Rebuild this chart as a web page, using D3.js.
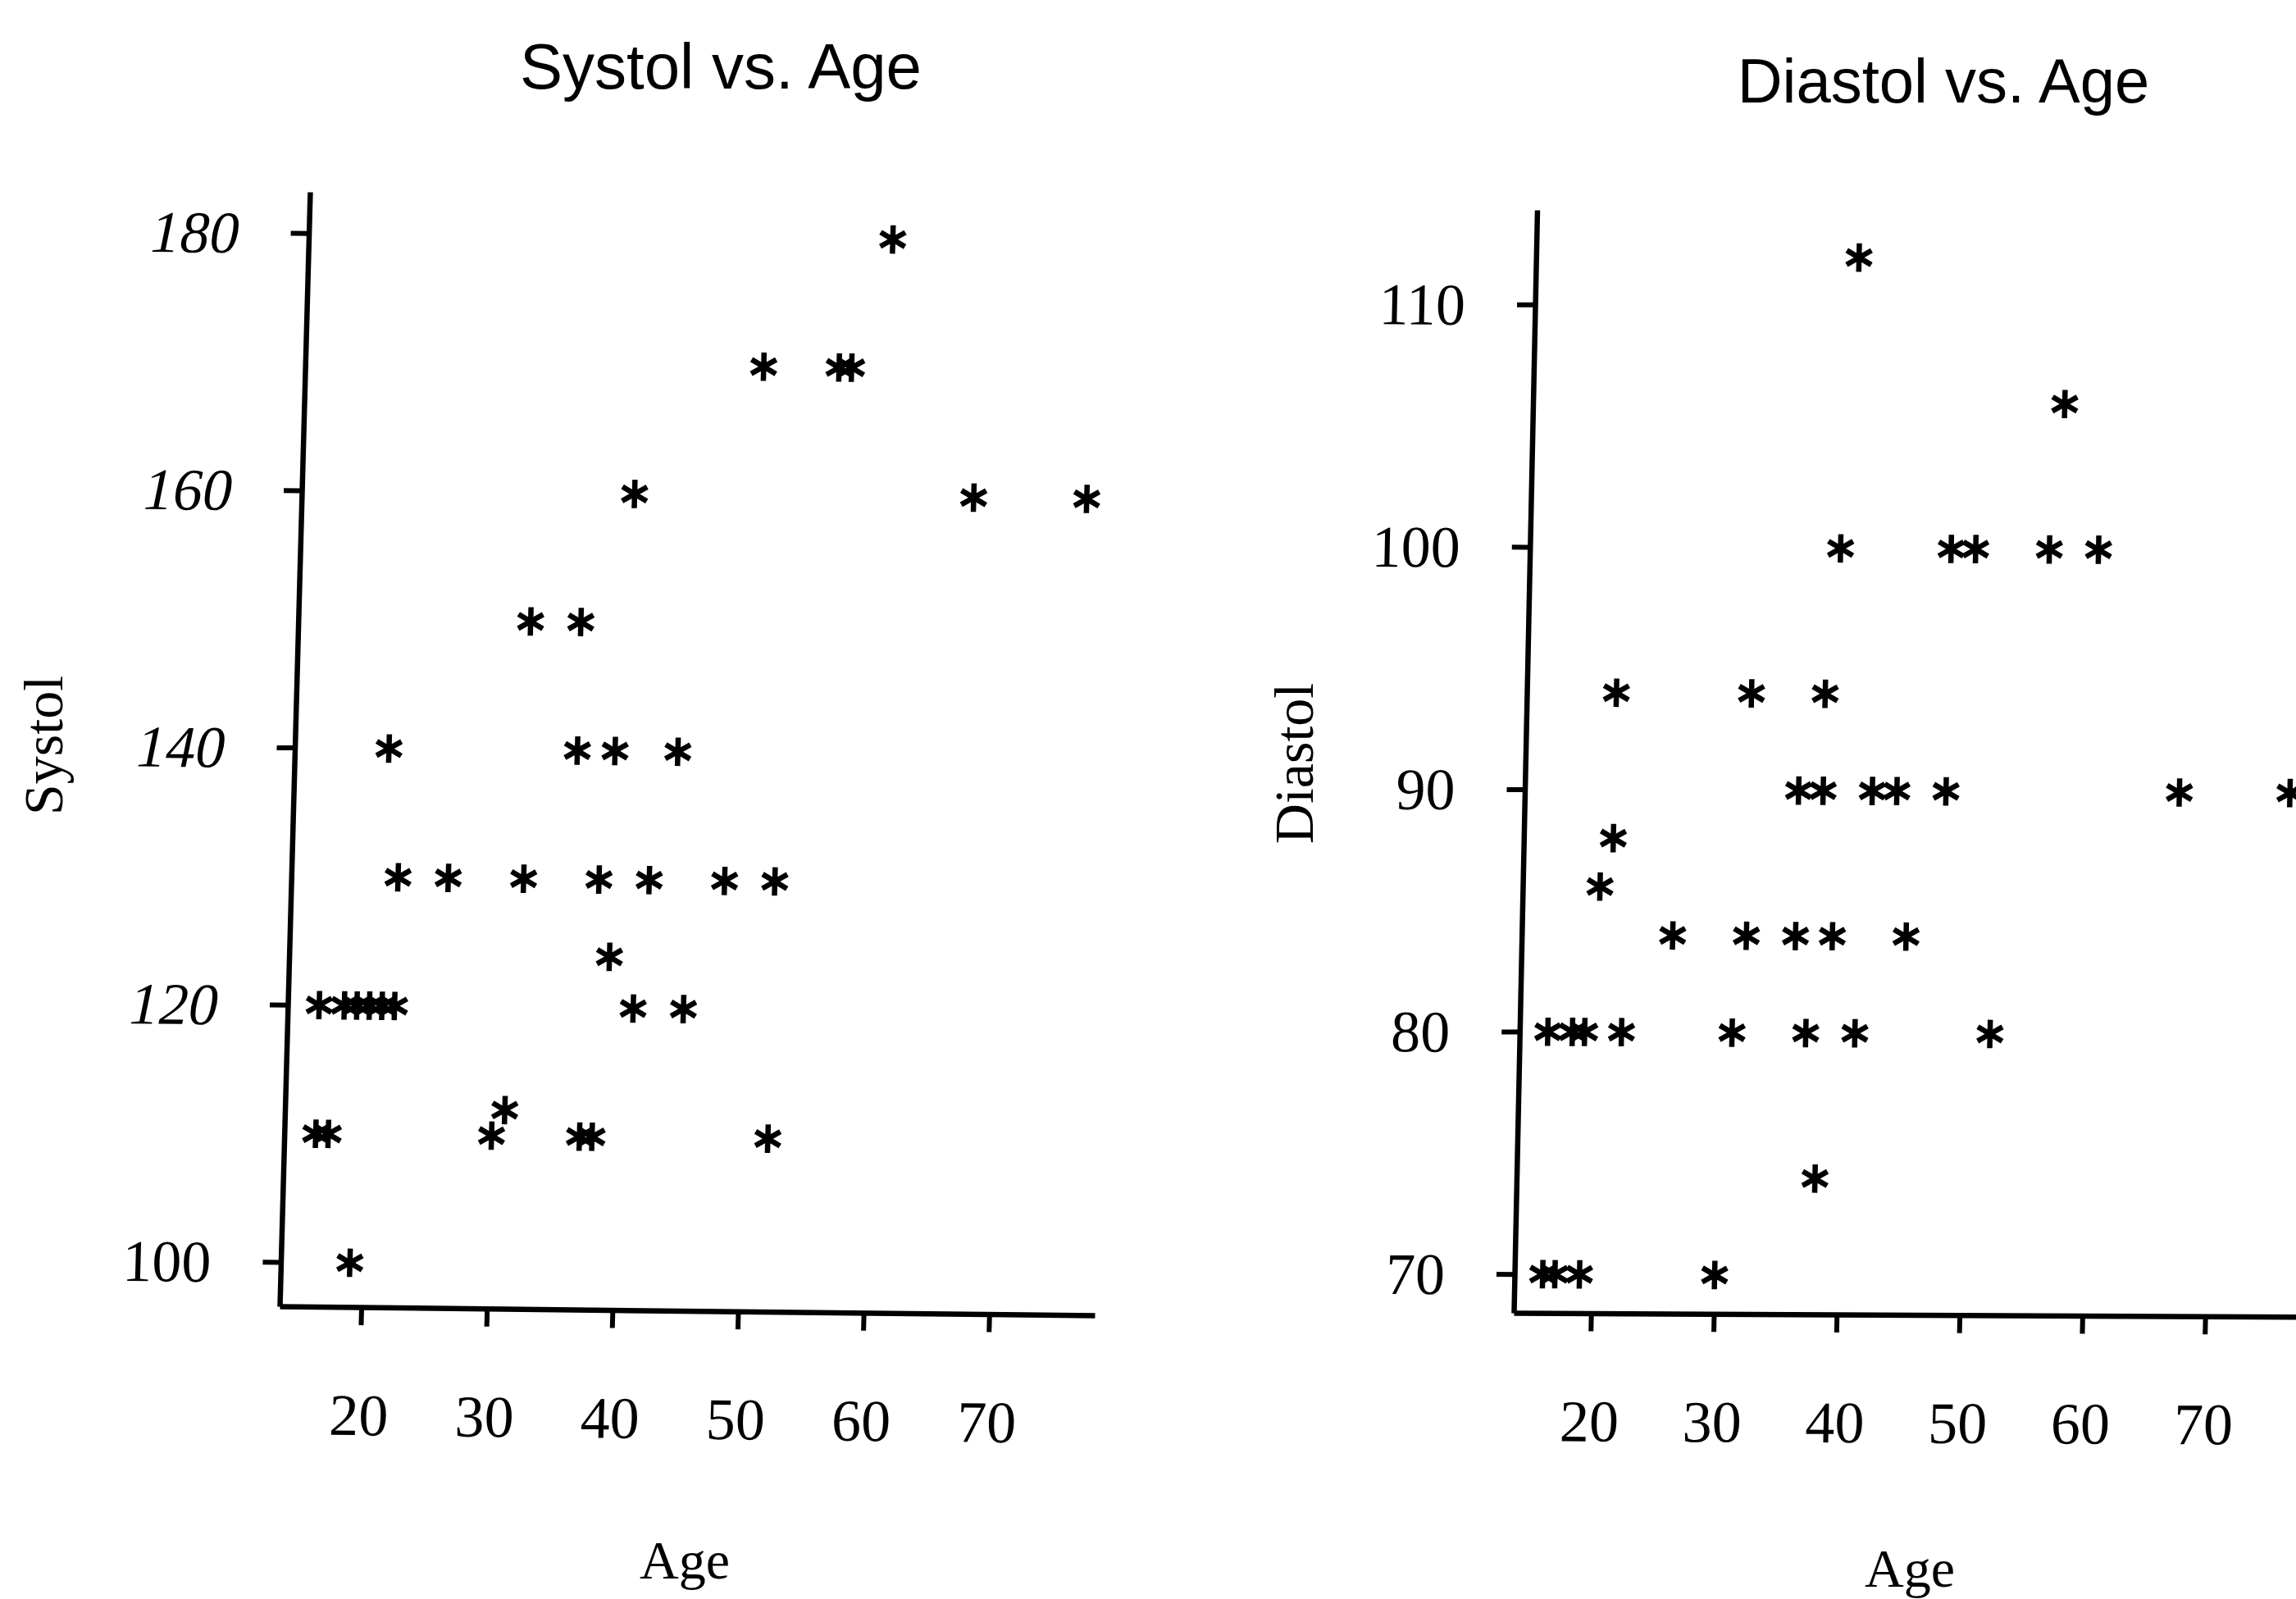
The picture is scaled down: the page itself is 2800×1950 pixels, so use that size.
<!DOCTYPE html>
<html>
<head>
<meta charset="utf-8">
<script src="https://cdn.jsdelivr.net/npm/d3@7"></script>
<style>
  body { margin: 0; background: #fff; }
</style>
</head>
<body>
<div class="chart"></div>
<script>
const width = 2800
const height = 1950

// left panel: Systol vs. Age
const systolAge = [60, 50, 56, 57, 40, 67, 76, 32, 36, 21, 36, 39, 44,
    22, 26, 32, 38, 42, 48, 52, 39, 16, 18, 19, 20, 21, 22, 41, 45,
    31, 16, 17, 30, 37, 38, 52, 19]
const systol = [180, 170, 170, 170, 160, 160, 160, 150, 150, 140, 140, 140, 140,
    130, 130, 130, 130, 130, 130, 130, 124, 120, 120, 120, 120, 120, 120, 120, 120,
    112, 110, 110, 110, 110, 110, 110, 100]
const systolTicks = [100, 120, 140, 160, 180]

// right panel: Diastol vs. Age
const diastolAge = [40, 57, 39, 48, 50, 56, 60, 21, 32, 38,
    36, 38, 42, 44, 48, 67, 76, 21, 20, 26, 32, 36, 39, 45,
    16, 18, 19, 22, 31, 37, 41, 52, 38, 16, 17, 19, 30]
const diastol = [112, 106, 100, 100, 100, 100, 100, 94, 94, 94,
    90, 90, 90, 90, 90, 90, 90, 88, 86, 84, 84, 84, 84, 84,
    80, 80, 80, 80, 80, 80, 80, 80, 74, 70, 70, 70, 70]
const diastolTicks = [70, 80, 90, 100, 110]

const ageTicks = [20, 30, 40, 50, 60, 70]

const serif = "'Liberation Serif', 'Times New Roman', serif"
const sans = "'Liberation Sans', Arial, sans-serif"

const svg = d3.select(".chart")
    .append("svg")
    .attr("width", width)
    .attr("height", height)
    .style("background", "#fff")

const star = d3.symbol().type(d3.symbolAsterisk).size(850)

// the scanned page is a little skewed, so each plot sits in a sheared group
function drawPanel(p) {
    const g = svg.append("g")
        .attr("transform", `matrix(1,${p.slopeX},${p.slopeY},1,${p.ox},${p.oy})`)

    const xScale = d3.scaleLinear().domain(p.xDomain).range([0, p.w])
    const yScale = d3.scaleLinear().domain(p.yDomain).range([0, -p.h])

    const xAxis = d3.axisBottom(xScale)
        .tickValues(ageTicks)
        .tickSize(22)
        .tickSizeOuter(0)
        .tickPadding(83)

    const yAxis = d3.axisLeft(yScale)
        .tickValues(p.yTicks)
        .tickSize(22)
        .tickSizeOuter(0)
        .tickPadding(63)

    const gx = g.append("g").call(xAxis)
    const gy = g.append("g").call(yAxis)

    ;[gx, gy].forEach(a => {
        a.attr("font-family", serif).attr("font-size", 72)
        a.select(".domain").attr("stroke", "#000").attr("stroke-width", 6.5)
        a.selectAll(".tick line").attr("stroke", "#000").attr("stroke-width", 6)
        a.selectAll(".tick text").attr("fill", "#000")
    })
    gy.selectAll(".tick text")
        .attr("dy", "0.34em")
        .style("font-style", d => p.italic && d !== 100 ? "italic" : "normal")

    g.selectAll("path.pt")
        .data(d3.zip(p.xs, p.ys))
        .join("path")
        .attr("class", "pt")
        .attr("transform", d => `translate(${xScale(d[0])},${yScale(d[1])})`)
        .attr("d", star)
        .attr("fill", "none")
        .attr("stroke", "#000")
        .attr("stroke-width", 6.5)

    svg.append("text")
        .attr("x", p.titleX)
        .attr("y", p.titleY)
        .attr("text-anchor", "middle")
        .attr("font-family", sans)
        .attr("font-size", p.titleSize)
        .text(p.title)

    svg.append("text")
        .attr("x", p.ageX)
        .attr("y", p.ageY)
        .attr("text-anchor", "middle")
        .attr("font-family", serif)
        .attr("font-size", 66)
        .text("Age")

    svg.append("text")
        .attr("transform", `translate(${p.labX},${p.labY}) rotate(-90)`)
        .attr("text-anchor", "middle")
        .attr("font-family", serif)
        .attr("font-size", 68)
        .text(p.label)
}

drawPanel({
    ox: 341, oy: 1593, slopeX: 0.011, slopeY: -0.0272,
    w: 994, h: 1359,
    xDomain: [13.5, 78.4], yDomain: [96.56, 183.2],
    yTicks: systolTicks, italic: true,
    xs: systolAge, ys: systol,
    title: "Systol vs. Age", titleX: 879, titleY: 108, titleSize: 78,
    ageX: 835, ageY: 1925,
    label: "Systol", labX: 76, labY: 909
})

drawPanel({
    ox: 1846, oy: 1601, slopeX: 0.005, slopeY: -0.0212,
    w: 993, h: 1345,
    xDomain: [13.71, 80], yDomain: [68.4, 113.9],
    yTicks: diastolTicks, italic: false,
    xs: diastolAge, ys: diastol,
    title: "Diastol vs. Age", titleX: 2370, titleY: 125, titleSize: 76,
    ageX: 2329, ageY: 1935,
    label: "Diastol", labX: 1601, labY: 931
})
</script>
</body>
</html>
